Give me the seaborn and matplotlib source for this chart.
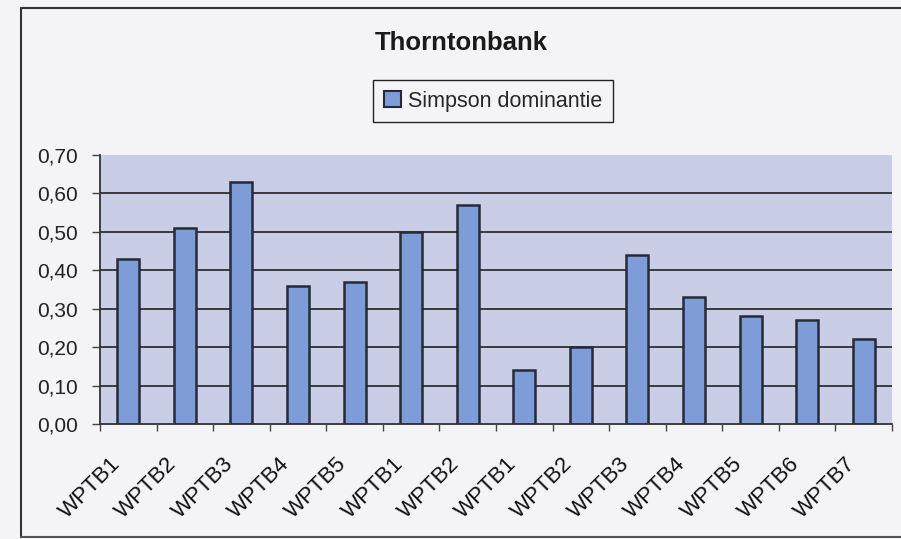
import matplotlib
matplotlib.use("Agg")
import matplotlib.pyplot as plt
from matplotlib.ticker import FuncFormatter, FixedLocator
from matplotlib.patches import Patch
import seaborn as sns
import pandas as pd

# Simpson dominance per station, Thorntonbank
labels = ["WPTB1", "WPTB2", "WPTB3", "WPTB4", "WPTB5", "WPTB1", "WPTB2",
          "WPTB1", "WPTB2", "WPTB3", "WPTB4", "WPTB5", "WPTB6", "WPTB7"]
simpson = [0.43, 0.51, 0.63, 0.36, 0.37, 0.50, 0.57,
           0.14, 0.20, 0.44, 0.33, 0.28, 0.27, 0.22]
yticks = [0.0, 0.1, 0.2, 0.3, 0.4, 0.5, 0.6, 0.7]

df = pd.DataFrame({"key": [f"s{i}" for i in range(len(labels))],
                   "value": simpson})

sns.set_theme(style="white")
plt.rcParams["font.family"] = ["Liberation Sans", "DejaVu Sans"]

fig_bg = "#F4F4F6"
plot_bg = "#C9CDE6"
bar_color = "#7E9CD8"
edge = "#262a38"

fig = plt.figure(figsize=(9.01, 5.39), dpi=100, facecolor=fig_bg)
ax = fig.add_axes([100 / 901, 1 - 424 / 539, 792 / 901, 269 / 539])
ax.set_facecolor(plot_bg)

sns.barplot(data=df, x="key", y="value", color=bar_color, saturation=1,
            width=0.39, edgecolor=edge, linewidth=1.8, ax=ax, zorder=3)

ax.set_xlim(-0.5, len(labels) - 0.5)
ax.set_ylim(0, 0.7)
ax.set_yticks(yticks)
ax.yaxis.set_major_formatter(FuncFormatter(lambda v, p: f"{v:.2f}".replace(".", ",")))

# horizontal gridlines (none at the top edge)
for v in yticks[1:-1]:
    ax.axhline(v, color="#3a3a40", lw=1.4, zorder=1)

# rotated labels end slightly left of each bar centre
ax.set_xticks([i - 0.33 for i in range(len(labels))])
ax.set_xticklabels(labels, rotation=45, ha="right", va="top",
                   rotation_mode="anchor", fontsize=16, color="#111111")
ax.xaxis.set_minor_locator(FixedLocator([i - 0.5 for i in range(len(labels) + 1)]))
ax.tick_params(axis="x", which="major", length=0, pad=21)
ax.tick_params(axis="x", which="minor", bottom=True, length=5, width=1, color="#444444")
ax.tick_params(axis="y", left=True, length=6, width=1, color="#444444",
               labelsize=15, labelcolor="#222222", pad=10)

ax.set_xlabel("")
ax.set_ylabel("")
for s in ["top", "right"]:
    ax.spines[s].set_visible(False)
for s in ["left", "bottom"]:
    ax.spines[s].set_color("#333333")
    ax.spines[s].set_linewidth(1.3)
    ax.spines[s].set_zorder(4)

fig.text(461 / 901, 1 - 43 / 539, "Thorntonbank", ha="center", va="center",
         fontsize=18.5, fontweight="bold", color="#1a1a1a")

handle = Patch(facecolor=bar_color, edgecolor=edge, linewidth=1.5)
leg = fig.legend([handle], ["Simpson dominantie"], loc="center",
                 bbox_to_anchor=(493 / 901, 1 - 101 / 539), fontsize=15.5,
                 frameon=True, fancybox=False, edgecolor="#222222",
                 framealpha=1, handlelength=0.8, handleheight=0.8,
                 handletextpad=0.3, borderpad=0.5)
leg.get_frame().set_facecolor(fig_bg)
leg.get_frame().set_linewidth(1.0)

# outer chart frame
fig.add_artist(plt.Line2D([21 / 901, 21 / 901], [1 - 537 / 539, 1 - 8 / 539],
                          color="#333333", lw=1.5, transform=fig.transFigure))
fig.add_artist(plt.Line2D([21 / 901, 1.0], [1 - 8 / 539, 1 - 8 / 539],
                          color="#333333", lw=1.5, transform=fig.transFigure))
fig.add_artist(plt.Line2D([21 / 901, 1.0], [1 - 537 / 539, 1 - 537 / 539],
                          color="#555555", lw=1.5, transform=fig.transFigure))

fig.savefig("out.png", dpi=100, facecolor=fig_bg)
